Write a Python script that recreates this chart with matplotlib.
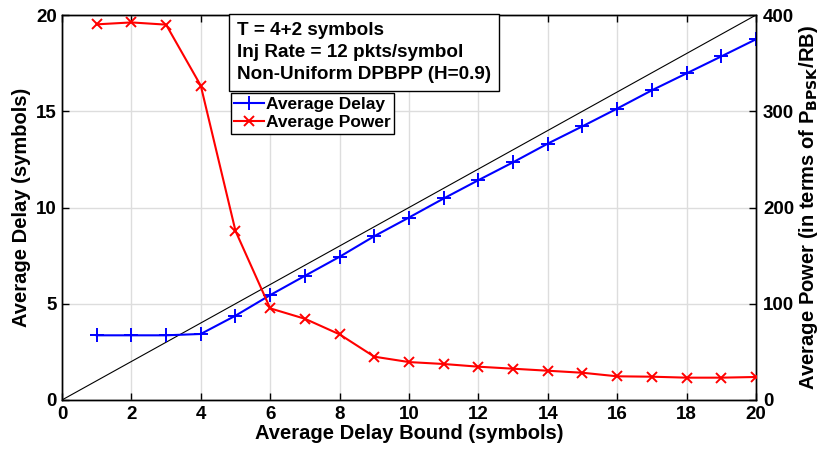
import matplotlib
matplotlib.use("Agg")
import matplotlib.pyplot as plt

plt.rcParams["font.family"] = ["Liberation Sans", "DejaVu Sans"]
plt.rcParams["font.weight"] = "bold"
plt.rcParams["mathtext.default"] = "bf"

# ---- data ----
bound = list(range(1, 21))
avg_delay = [3.36, 3.36, 3.36, 3.43, 4.38, 5.45, 6.45, 7.44, 8.51, 9.48,
             10.47, 11.42, 12.35, 13.32, 14.22, 15.14, 16.09, 16.97, 17.85, 18.74]
avg_power = [390.3, 392.3, 390.0, 326.6, 175.7, 95.2, 84.4, 68.2, 45.0, 39.4,
             37.4, 34.6, 32.5, 30.4, 28.3, 24.6, 24.2, 23.2, 23.2, 23.9]
ref_line = [0, 20]
info_lines = ["T = 4+2 symbols", "Inj Rate = 12 pkts/symbol", "Non-Uniform DPBPP (H=0.9)"]

fig = plt.figure(figsize=(8.23, 4.55), dpi=100)
ax = fig.add_axes([0.0753, 0.1209, 0.8433, 0.8461])
ax2 = ax.twinx()

ax.plot(ref_line, ref_line, color="black", lw=0.8, zorder=2)
h1, = ax.plot(bound, avg_delay, color="#0000ff", marker="+", ms=10, mew=1.4, lw=1.5,
              label="Average Delay", zorder=3)
h2, = ax2.plot(bound, avg_power, color="#ff0000", marker="x", ms=7, mew=1.4, lw=1.5,
               label="Average Power", zorder=3)

ax.set_xlim(0, 20)
ax.set_ylim(0, 20)
ax2.set_ylim(0, 400)
ax.set_xticks(range(0, 21, 2))
ax.set_yticks([0, 5, 10, 15, 20])
ax2.set_yticks([0, 100, 200, 300, 400])
ax.grid(True, color="#dddddd", lw=1.0)
ax.set_axisbelow(True)

ax.tick_params(axis="both", direction="in", length=5, labelsize=13.5, top=True, width=1.0)
ax.tick_params(axis="x", pad=4)
ax2.tick_params(axis="y", direction="in", length=5, labelsize=13.5, width=1.0, pad=5)
for lab in ax.get_xticklabels() + ax.get_yticklabels() + ax2.get_yticklabels():
    lab.set_fontweight("bold")
for a in (ax, ax2):
    for s in a.spines.values():
        s.set_linewidth(1.0)

ax.set_xlabel("Average Delay Bound (symbols)", fontsize=14.5, fontweight="bold", labelpad=1)
ax.set_ylabel("Average Delay (symbols)", fontsize=14.5, fontweight="bold", labelpad=4)
ax2.set_ylabel("Average Power (in terms of P$_{\\mathbf{BPSK}}$/RB)", fontsize=14.5,
               fontweight="bold", labelpad=2)

ax2.text(0.2435 + 0.009, 0.983, "\n".join(info_lines), transform=ax.transAxes, fontsize=13.6,
         fontweight="bold", va="top", ha="left", linespacing=1.42,
         bbox=dict(boxstyle="square,pad=0.42", fc="white", ec="black", lw=1.0), zorder=10)

leg = ax2.legend(handles=[h1, h2], loc="upper left", bbox_to_anchor=(0.2435, 0.797),
                 fontsize=12.5, frameon=True, fancybox=False, edgecolor="black",
                 framealpha=1, borderpad=0.2, handlelength=1.7, handletextpad=0.1,
                 labelspacing=0.2, borderaxespad=0)
leg.get_frame().set_linewidth(1.0)
for t in leg.get_texts():
    t.set_fontweight("bold")

fig.savefig("out.png", dpi=100)
